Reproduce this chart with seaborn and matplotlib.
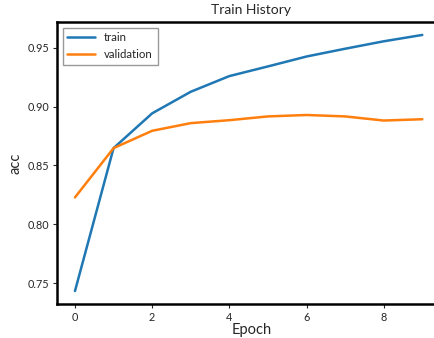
import numpy as np
import pandas as pd
import seaborn as sns
import matplotlib.pyplot as plt

# accuracy per epoch
epochs = [0, 1, 2, 3, 4, 5, 6, 7, 8, 9]
train_acc = [0.7435, 0.8647, 0.8942, 0.9125, 0.9258, 0.9340, 0.9424, 0.9490, 0.9553, 0.9607]
val_acc = [0.8229, 0.8647, 0.8794, 0.8859, 0.8884, 0.8916, 0.8928, 0.8916, 0.8881, 0.8892]

sns.set_style("ticks")
plt.rcParams['font.family'] = ['Lato', 'DejaVu Sans']

fig = plt.figure(figsize=(4.35, 3.38), dpi=100)
# right edge of the axes sits outside the picture, as in the cropped reference
ax = fig.add_axes([0.131, 0.1006, 0.893, 0.8344])

sns.lineplot(x=epochs, y=train_acc, label='train', color='#1f77b4', linewidth=1.8, ax=ax)
sns.lineplot(x=epochs, y=val_acc, label='validation', color='#ff7f0e', linewidth=1.8, ax=ax)

ax.set_xlim(-0.466, 9.6)
ax.set_ylim(0.7325, 0.9717)
ax.set_xticks([0, 2, 4, 6, 8])
ax.set_yticks([0.75, 0.80, 0.85, 0.90, 0.95])
ax.tick_params(labelsize=7.8, length=3, width=0.8, pad=2.5)
for s in ax.spines.values():
    s.set_linewidth(1.8)
    s.set_color('black')

ax.set_title('Train History', fontsize=10)
ax.set_xlabel('Epoch', fontsize=10.5, labelpad=0)
ax.set_ylabel('acc', fontsize=10.5)
ax.legend(loc='upper left', fontsize=8.3, fancybox=False, edgecolor='#999999',
          framealpha=1, handlelength=2.4)

fig.savefig('out.png', dpi=100)
